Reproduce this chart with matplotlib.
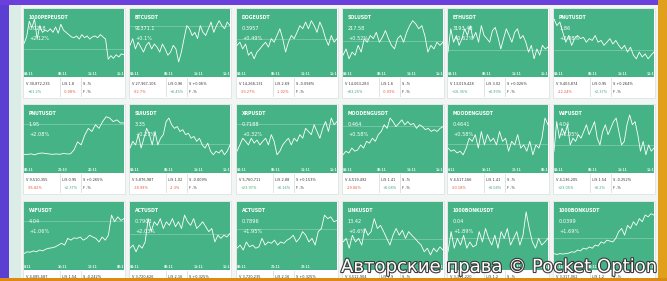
import matplotlib.pyplot as plt
import matplotlib.patheffects as pe
from matplotlib.patches import Rectangle

# Datos de cada mini grafica (niveles relativos 0-100)
simbolos = ["1000PEPEUSDT", "BTCUSDT", "DOGEUSDT", "SOLUSDT", "ETHUSDT", "PNUTUSDT",
            "PNUTUSDT", "SUIUSDT", "XRPUSDT", "MOODENGUSDT", "MOODENGUSDT", "WIFUSDT",
            "WIFUSDT", "ACTUSDT", "ACTUSDT", "LINKUSDT", "1000BONKUSDT", "1000BONKUSDT"]
precios = ["0.0218", "91371.1", "0.3957", "217.58", "3193.48", "1.86",
           "1.95", "3.35", "0.7188", "0.464", "0.4641", "4.04",
           "4.04", "0.7903", "0.7896", "13.42", "0.04", "0.0399"]
cambios = ["+2.12%", "+0.1%", "+0.49%", "+0.52%", "+0.62%", "+2.08%",
           "+2.08%", "+0.27%", "+0.32%", "+0.58%", "+0.58%", "+1.05%",
           "+1.06%", "+2.03%", "+1.95%", "+0.6%", "+1.89%", "+1.69%"]
volumenes = ["V 30,872,235", "V 27,967,106", "V 14,268,131", "V 14,063,283", "V 13,019,428", "V 9,403,874",
             "V 9,510,355", "V 5,876,987", "V 5,760,711", "V 4,519,492", "V 4,517,166", "V 4,136,205",
             "V 4,085,587", "V 3,720,626", "V 3,720,235", "V 3,512,904", "V 3,391,220", "V 3,317,062"]
vol_cambio = ["+61.2%", "-62.7%", "-93.27%", "+83.25%", "+16.35%", "-22.24%",
              "-95.82%", "-38.99%", "+23.97%", "-29.06%", "-90.18%", "+23.05%"]
ls_vals = ["L/S 1.8", "L/S 0.96", "L/S 2.69", "L/S 1.6", "L/S 3.02", "L/S 0.95",
           "L/S 0.95", "L/S 1.02", "L/S 2.88", "L/S 1.41", "L/S 1.41", "L/S 1.54",
           "L/S 1.54", "L/S 2.16", "L/S 2.16", "L/S 1.9", "L/S 1.2", "L/S 1.2"]
ls_cambio = ["-0.08%", "+0.45%", "-1.02%", "-0.93%", "+0.93%", "+2.37%",
             "+2.37%", "-2.3%", "+0.16%", "+0.08%", "+0.08%", "+0.2%"]
s_vals = ["S -%", "S +0.06%", "S -0.098%", "S -%", "S +0.026%", "S +0.264%",
          "S +0.265%", "S -0.009%", "S +0.153%", "S -%", "S -%", "S -0.252%",
          "S -0.242%", "S +0.325%", "S +0.325%", "S -%", "S -%", "S -%"]

horas = [["04:11", "08:11", "11:11", "15:11"]] * 6 + \
        [["08:11", "21:10", "22:11", ""], ["04:11", "08:11", "11:11", "15:11"],
         ["04:11", "08:11", "11:11", "15:11"], ["04:11", "08:11", "11:11", "15:11"],
         ["0:11", "16:11", "12:11", "08:11"], ["04:11", "08:11", "11:11", "15:11"],
         ["0:11", "16:11", "12:11", "08:11"], ["04:11", "08:11", "11:11", "15:11"],
         ["08:11", "21:11", "23:11", ""], ["04:11", "08:11", "11:11", "15:11"],
         ["04:11", "08:11", "11:11", "15:11"], ["04:11", "08:11", "11:11", "15:11"]]

referencias = [33, 85, 56, 50, 31, 30,
               79, 35, 79, 76, 35, 33,
               79, 50, 61, 39, 41, 41]

series = [
    [45, 60, 95, 80, 100, 55, 85, 70, 75, 72, 78, 70, 82, 68, 88, 75, 70, 65, 60, 58,
     62, 55, 65, 58, 62, 55, 60, 62, 58, 65, 60, 55, 10, 18, 12, 20, 15, 22, 20],
    [41, 56, 33, 48, 37, 26, 41, 48, 33, 44, 37, 26, 44, 33, 19, 26, 41, 33, 4, 26,
     56, 85, 78, 63, 70, 56, 85, 70, 63, 78, 93, 70, 85, 96, 85, 78, 93, 85],
    [41, 48, 33, 44, 19, 26, 11, 26, 33, 41, 48, 37, 56, 48, 63, 78, 56, 26, 48, 63,
     56, 70, 85, 78, 93, 78, 96, 85, 70, 93, 78, 56, 41, 63, 48, 56],
    [19, 33, 11, 26, 19, 41, 26, 56, 48, 63, 56, 70, 48, 59, 74, 56, 41, 33, 56, 63,
     48, 70, 85, 96, 89, 78, 85, 63, 26, 41, 33, 48, 41, 48],
    [26, 78, 48, 63, 41, 56, 78, 63, 85, 56, 70, 48, 85, 63, 56, 48, 74, 81, 59, 33,
     56, 78, 63, 48, 70, 78, 56, 63, 48, 26, 41, 11, 33, 19, 41, 33, 37],
    [100, 85, 93, 70, 48, 63, 41, 56, 63, 56, 59, 48, 56, 52, 63, 48, 52, 41, 48, 56,
     44, 52, 41, 33, 41, 26, 37, 19, 11, 26, 15, 22, 11, 19, 26],
    [12, 12, 13, 11, 14, 15, 14, 13, 12, 13, 12, 14, 13, 13, 22, 40, 33, 55, 70, 63,
     78, 70, 85, 96, 93, 85, 89, 82, 82],
    [26, 41, 33, 56, 26, 48, 70, 56, 33, 63, 33, 48, 56, 85, 93, 78, 70, 74, 63, 67,
     56, 59, 48, 52, 41, 48, 33, 26, 37, 19, 11, 19, 15, 22, 11, 19, 33],
    [19, 33, 48, 41, 33, 48, 37, 44, 33, 41, 48, 33, 56, 41, 11, 19, 33, 41, 48, 33,
     48, 41, 56, 48, 70, 63, 56, 78, 63, 48, 70, 85, 63, 93, 78, 85],
    [11, 19, 15, 26, 19, 22, 33, 26, 41, 37, 48, 41, 56, 63, 78, 70, 93, 85, 74, 81,
     89, 78, 85, 78, 81, 70, 78, 74, 67, 70, 63, 67, 63, 70, 74],
    [26, 19, 22, 15, 19, 11, 26, 48, 41, 56, 26, 63, 33, 56, 41, 48, 33, 63, 41, 48,
     19, 41, 33, 56, 26, 33, 19, 41, 11, 33, 26, 48, 93, 78],
    [19, 85, 48, 70, 56, 78, 33, 48, 41, 56, 48, 63, 78, 56, 70, 85, 48, 33, 63, 78,
     56, 70, 85, 93, 63, 33, 41, 78, 100, 78, 85, 56, 19, 41, 11, 33, 19, 26],
    [7, 11, 10, 13, 11, 15, 13, 17, 19, 20, 22, 26, 30, 26, 41, 37, 42, 41, 44, 37,
     41, 48, 44, 41, 33, 44, 37, 48, 93, 78, 89, 81, 85],
    [19, 26, 11, 26, 19, 33, 85, 56, 78, 70, 85, 63, 78, 70, 85, 67, 78, 63, 93, 78,
     70, 85, 63, 70, 78, 67, 56, 63, 33, 48, 41, 48, 44, 52],
    [19, 26, 15, 33, 22, 26, 19, 22, 41, 26, 33, 30, 37, 26, 33, 30, 37, 41, 48, 33,
     41, 56, 48, 33, 41, 26, 56, 63, 93, 85, 89, 78, 81],
    [33, 41, 19, 48, 33, 41, 26, 63, 48, 56, 85, 63, 70, 56, 41, 26, 48, 63, 48, 59,
     41, 56, 48, 41, 33, 26, 11, 19, 4, 19, 11, 22, 15],
    [11, 56, 19, 41, 26, 48, 19, 33, 22, 26, 56, 33, 63, 41, 26, 48, 19, 56, 41, 63,
     26, 41, 56, 26, 48, 100, 63, 33, 19, 41, 26, 33, 41],
    [7, 5, 7, 6, 7, 8, 11, 10, 15, 13, 19, 17, 22, 19, 26, 24, 33, 30, 37, 35,
     33, 41, 56, 63, 48, 70, 63, 78, 70, 85, 78, 93, 89, 96, 93],
]

W, H = 667, 281
VERDE = "#45b386"
POS = "#3aa874"
NEG = "#e2553f"


def caja(x, y, w, h, color, z, borde=None):
    # rectangulo en pixeles (origen arriba a la izquierda)
    r = Rectangle((x / W, 1 - (y + h) / H), w / W, h / H, transform=fig.transFigure,
                  facecolor=color, edgecolor=borde if borde else "none",
                  linewidth=0.5, zorder=z)
    fig.patches.append(r)


def texto(x, y, s, **kw):
    fig.text(x / W, 1 - y / H, s, va="center", **kw)


def color_de(s):
    return NEG if s.startswith("-") else POS


fig = plt.figure(figsize=(W / 100, H / 100), dpi=100)

# Fondo y marcos de la captura
caja(0, 0, W, H, "#f1f6f4", -10)
caja(0, 0, 9, H, "#5b3fd3", -9)
caja(9, 0, 12, H, "#dcece6", -9)
caja(0, 0, W, 5, "#6a3fdc", -9)
caja(658, 0, 9, H, "#e1a01c", -9)

xs = [24, 130, 237, 343, 448, 554]
ys = [9, 105, 202]
ancho, alto = 100, 68

for i in range(18):
    fila, col = divmod(i, 6)
    x0, y0 = xs[col], ys[fila]

    # tarjeta blanca con la parte de informacion
    caja(x0 - 1, y0 - 1, ancho + 2, alto + 22, "white", -5, borde="#d9e0dd")
    caja(x0 + 36, y0 + alto + 1, 0.6, 19, "#e0e5e3", -4)
    caja(x0 + 57, y0 + alto + 1, 0.6, 19, "#e0e5e3", -4)

    ax = fig.add_axes([x0 / W, 1 - (y0 + alto) / H, ancho / W, alto / H])
    ax.set_facecolor(VERDE)
    vals = series[i]
    ax.plot(range(len(vals)), vals, color="white", lw=0.6)
    ax.axhline(referencias[i], color="white", alpha=0.35, lw=0.5)
    ax.set_xlim(0, len(vals) - 1)
    ax.set_ylim(-29.6, 122.1)
    ax.set_xticks([])
    ax.set_yticks([])
    for s in ax.spines.values():
        s.set_visible(False)

    ax.text(0.05, 0.87, simbolos[i], transform=ax.transAxes, color="white",
            fontsize=3.3, fontweight="bold", va="center")
    ax.text(0.05, 0.72, precios[i], transform=ax.transAxes, color="white",
            fontsize=3.6, va="center")
    ax.text(0.05, 0.56, cambios[i], transform=ax.transAxes, color="white",
            fontsize=3.6, va="center")
    for hx, h in zip([0.0, 0.34, 0.64, 0.93], horas[i]):
        ax.text(hx, 0.05, h, transform=ax.transAxes, color="white", alpha=0.85,
                fontsize=2.2, fontweight="bold", va="center", clip_on=True)

    # fila de informacion (la segunda linea de la ultima fila queda tapada)
    l1 = y0 + alto + 7
    l2 = y0 + alto + 15
    texto(x0 + 2, l1, volumenes[i], color="#333333", fontsize=2.5)
    texto(x0 + 38, l1, ls_vals[i], color="#333333", fontsize=2.5)
    texto(x0 + 59, l1, s_vals[i], color="#333333", fontsize=2.5)
    if fila < 2:
        texto(x0 + 4, l2, vol_cambio[i], color=color_de(vol_cambio[i]), fontsize=2.5)
        texto(x0 + 40, l2, ls_cambio[i], color=color_de(ls_cambio[i]), fontsize=2.5)
        texto(x0 + 59, l2, "F -%", color="#333333", fontsize=2.5)

# Barra inferior y marca de agua
caja(0, 278, W, 3, "#dc8a12", 10)
fig.text(341 / W, 1 - 267 / H, "Авторские права © Pocket Option", color="white",
         fontsize=13, va="center", ha="left", zorder=11,
         path_effects=[pe.withStroke(linewidth=1.6, foreground="#3a3a3a")])

fig.savefig("out.png", dpi=100)
